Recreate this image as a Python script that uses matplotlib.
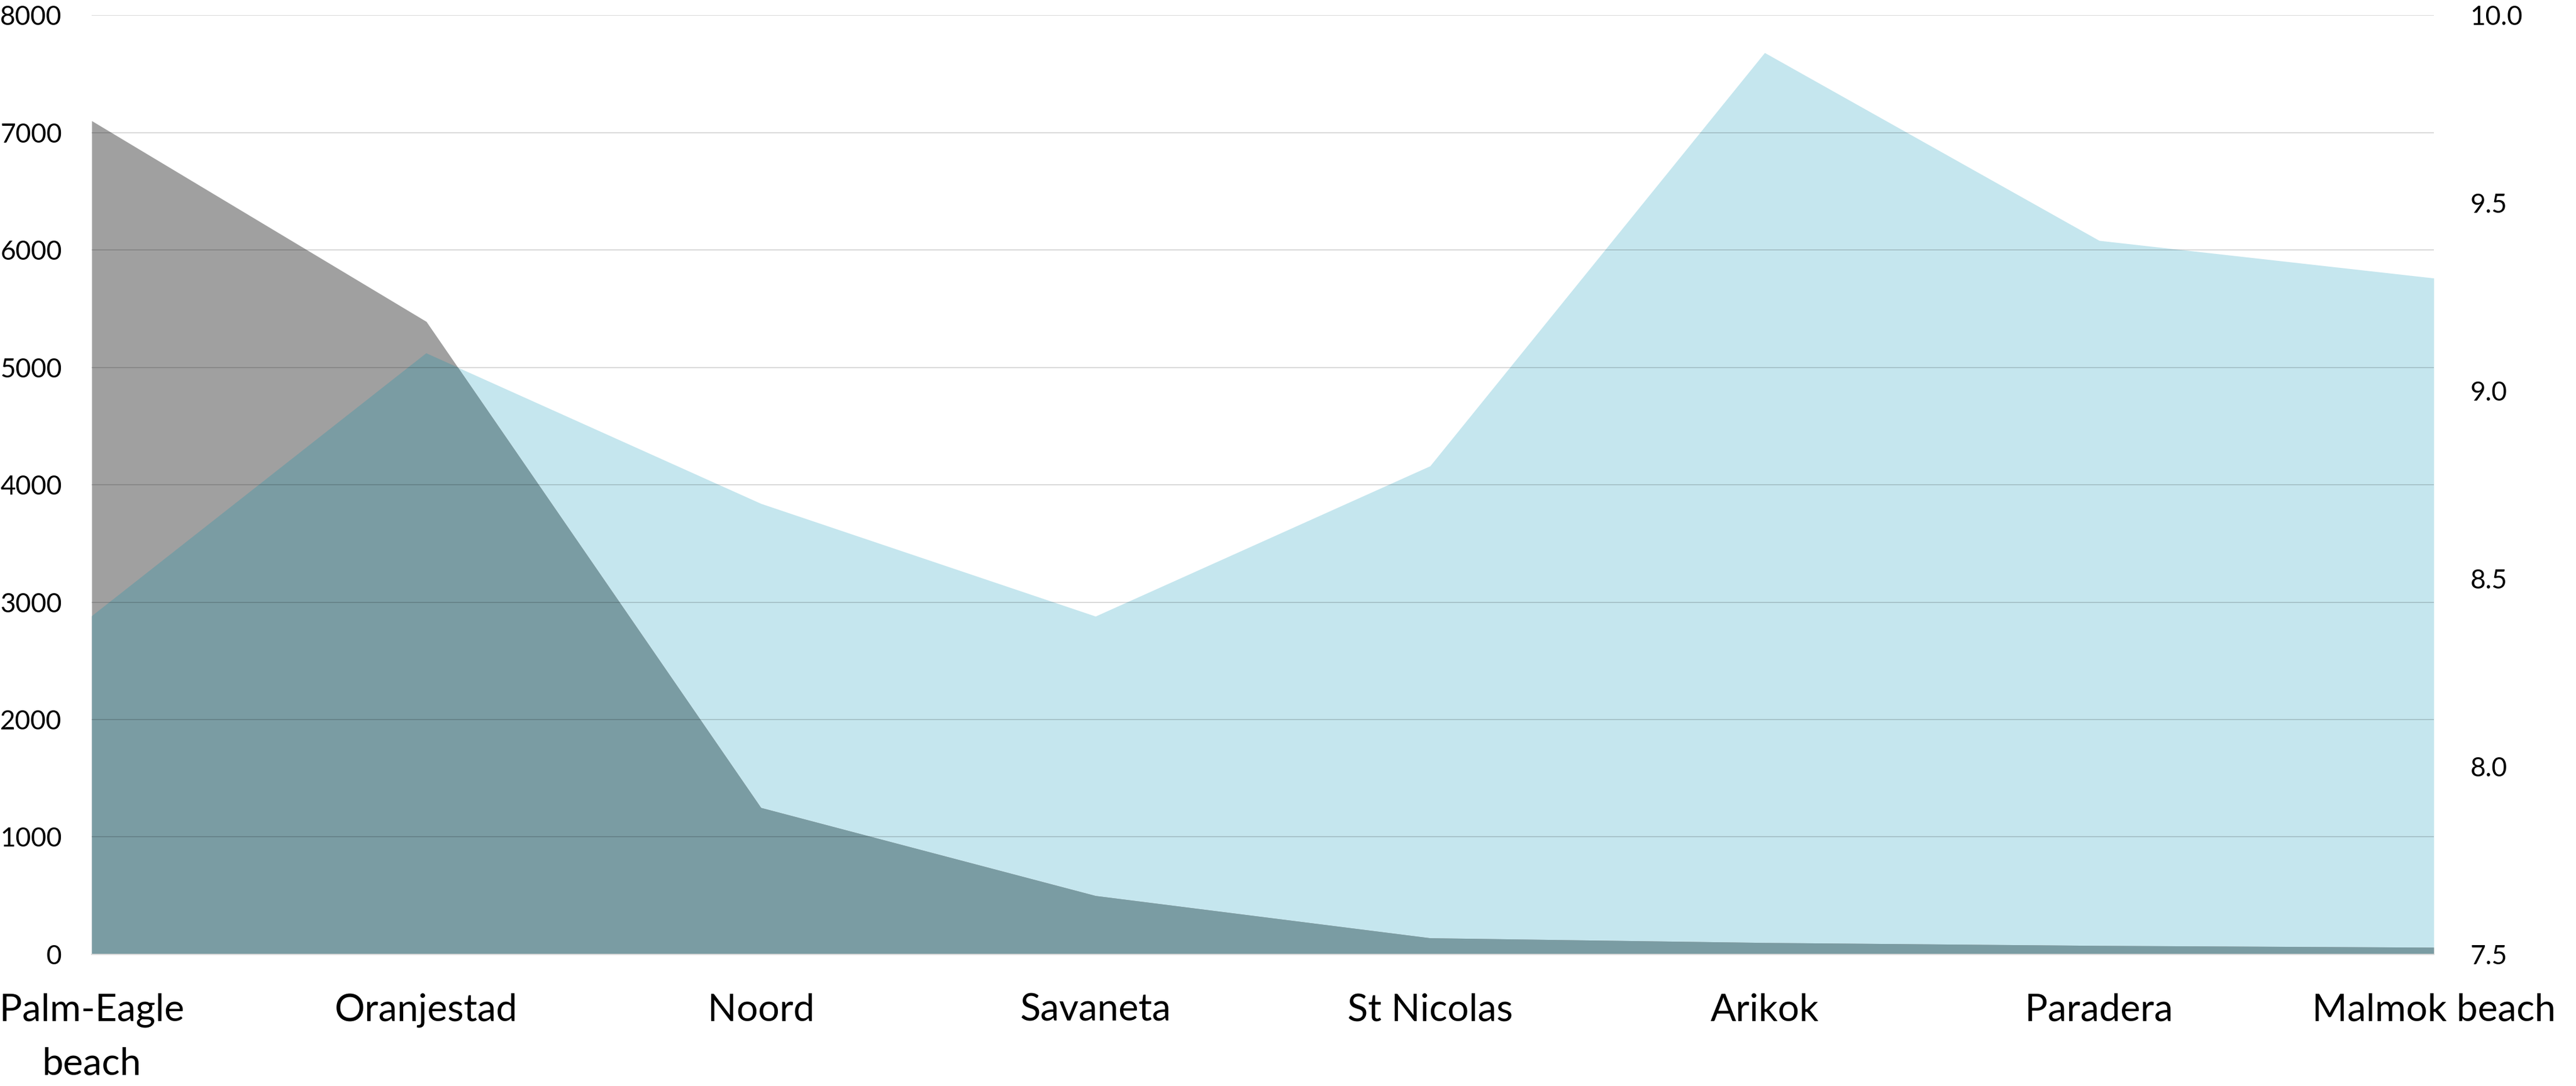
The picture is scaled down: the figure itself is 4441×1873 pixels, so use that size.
import matplotlib
matplotlib.use("Agg")
import matplotlib.pyplot as plt
import numpy as np

categories = ["Palm-Eagle\nbeach", "Oranjestad", "Noord", "Savaneta", "St Nicolas",
              "Arikok", "Paradera", "Malmok beach"]
gray_values = [7100, 5390, 1250, 500, 140, 100, 75, 60]          # left axis
blue_values = [8.4, 9.1, 8.7, 8.4, 8.8, 9.9, 9.4, 9.3]           # right axis
left_ticks = [0, 1000, 2000, 3000, 4000, 5000, 6000, 7000, 8000]
right_ticks = [7.5, 8.0, 8.5, 9.0, 9.5, 10.0]

GRAY = "#a0a0a0"
BLUE = "#c5e6ee"
OVERLAP = "#7a9ca3"

plt.rcParams["font.family"] = ["Lato", "DejaVu Sans"]

fig = plt.figure(figsize=(44.41, 18.73), dpi=100)
ax1 = fig.add_axes([0.0356, 0.1212, 0.9092, 0.8649])
ax2 = ax1.twinx()

x = np.arange(len(categories))

# blue area on secondary axis
blue_coll = ax2.fill_between(x, 7.5, blue_values, color=BLUE, lw=0, zorder=1)
ax2.set_ylim(7.5, 10.0)
ax2.set_yticks(right_ticks)
ax2.set_yticklabels([f"{v:.1f}" for v in right_ticks])

# gray area on primary axis, drawn above blue
ax1.set_zorder(ax2.get_zorder() + 1)
ax1.patch.set_visible(False)
ax2.patch.set_visible(True)
ax2.patch.set_facecolor("white")

ax1.fill_between(x, 0, gray_values, color=GRAY, lw=0, zorder=1)
ov = ax1.fill_between(x, 0, gray_values, color=OVERLAP, lw=0, zorder=1.2)
ov.set_clip_path(blue_coll.get_paths()[0], ax2.transData)

ax1.set_xlim(0, len(categories) - 1)
ax1.set_ylim(0, 8000)
ax1.set_yticks(left_ticks)
ax1.set_xticks(x)
ax1.set_xticklabels(categories, linespacing=1.7)
ax1.yaxis.grid(True, color="black", alpha=0.15, lw=1.44, zorder=1.5)
ax1.xaxis.grid(False)

for s in ["top", "right", "left"]:
    ax1.spines[s].set_visible(False)
ax1.spines["bottom"].set_color("#d9d9d9")
ax1.spines["bottom"].set_linewidth(1.5)
for s in ax2.spines.values():
    s.set_visible(False)

ax1.tick_params(axis="y", length=0, pad=37, labelsize=33)
ax1.tick_params(axis="x", length=0, pad=48, labelsize=47)
ax2.tick_params(axis="y", length=0, pad=45, labelsize=33)

fig.savefig("out.png", dpi=100)
